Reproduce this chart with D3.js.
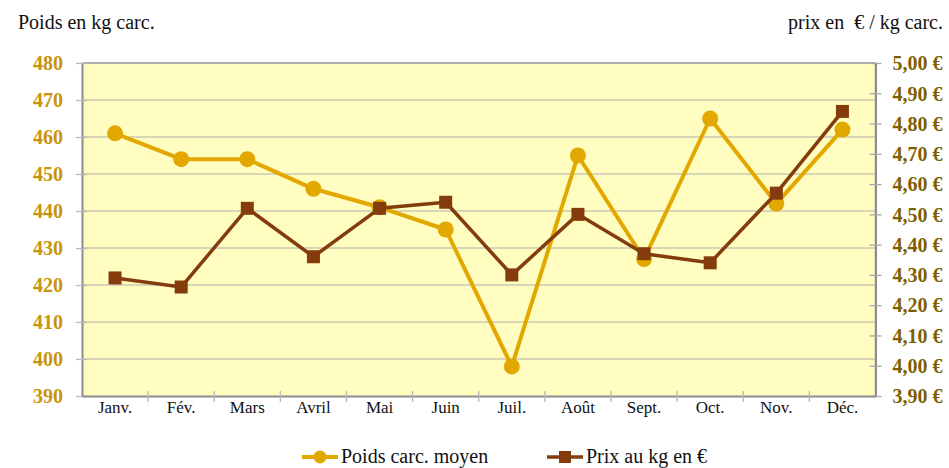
<!DOCTYPE html>
<html>
<head>
<meta charset="utf-8">
<script src="https://cdn.jsdelivr.net/npm/d3@7/dist/d3.min.js"></script>
<style>
  html, body { margin: 0; padding: 0; background: #ffffff; }
  svg { display: block; }
  text { font-family: "Liberation Serif", "Times New Roman", serif; white-space: pre; }
</style>
</head>
<body>
<svg id="chart" width="949" height="468"></svg>
<script>
// Monthly categories
const months = ["Janv.", "Fév.", "Mars", "Avril", "Mai", "Juin", "Juil.", "Août", "Sept.", "Oct.", "Nov.", "Déc."];
// Average carcass weight (kg)
const poids = [461, 454, 454, 446, 441, 435, 398, 455, 427, 465, 442, 462];
// Price per kg (€)
const prix = [4.29, 4.26, 4.52, 4.36, 4.52, 4.54, 4.30, 4.50, 4.37, 4.34, 4.57, 4.84];
// Axis ticks
const poidsTicks = [390, 400, 410, 420, 430, 440, 450, 460, 470, 480];
const prixTicks = [3.90, 4.00, 4.10, 4.20, 4.30, 4.40, 4.50, 4.60, 4.70, 4.80, 4.90, 5.00];
const seriesNames = ["Poids carc. moyen", "Prix au kg en €"];

const svg = d3.select("#chart");
const plotL = 82, plotR = 875.5, plotT = 63, plotB = 396;
const serif = '"Liberation Serif", "Times New Roman", serif';

const x = d3.scaleBand().domain(months).range([plotL, plotR]).padding(0);
const yL = d3.scaleLinear().domain([390, 480]).range([plotB, plotT]);
const yR = d3.scaleLinear().domain([3.90, 5.00]).range([plotB, plotT]);
const cx = d => x(d) + x.bandwidth() / 2;

const gold = "#E2A800", brown = "#843C0C";

// Titles
svg.append("text").attr("x", 18).attr("y", 29).style("font-size", "20px").attr("fill", "#111")
  .text("Poids en kg carc.");
svg.append("text").attr("x", 943).attr("y", 29).style("font-size", "20px").attr("fill", "#111")
  .attr("text-anchor", "end").text("prix en  € / kg carc.");

// Plot background
svg.append("rect").attr("x", plotL).attr("y", plotT).attr("width", plotR - plotL).attr("height", plotB - plotT)
  .attr("fill", "#FFFDC0");

// Horizontal gridlines
svg.append("g").selectAll("line").data(poidsTicks.filter(v => v > 390 && v < 480)).join("line")
  .attr("x1", plotL).attr("x2", plotR).attr("y1", d => yL(d)).attr("y2", d => yL(d))
  .attr("stroke", "#CBC8B4").attr("stroke-width", 1.3);

// Frame: top and right edges
svg.append("path").attr("d", `M${plotL},${plotT}H${plotR}V${plotB}`).attr("fill", "none")
  .attr("stroke", "#9B90A6").attr("stroke-width", 1.5);

// Left axis
const axL = svg.append("g").attr("transform", `translate(${plotL},0)`)
  .call(d3.axisLeft(yL).tickValues(poidsTicks).tickSizeOuter(0));
axL.select(".domain").attr("stroke", "#8C8C8C").attr("stroke-width", 2);
axL.selectAll(".tick line").attr("stroke", "#B8B8B8").attr("x2", 5).attr("x1", -6).attr("stroke-width", 1.3);
axL.selectAll(".tick text")
  .style("font-family", serif).style("font-size", "20px").style("font-weight", "bold")
  .attr("fill", "#C8940A").attr("dy", "0.34em").attr("x", -19);

// Right axis
const fmtPrix = d => d.toFixed(2).replace(".", ",") + " €";
const axR = svg.append("g").attr("transform", `translate(${plotR},0)`)
  .call(d3.axisRight(yR).tickValues(prixTicks).tickFormat(fmtPrix).tickSizeOuter(0));
axR.select(".domain").attr("stroke", "#8C8C8C").attr("stroke-width", 2);
axR.selectAll(".tick line").attr("stroke", "#A8A8A8").attr("x1", -6).attr("x2", 6).attr("stroke-width", 1.3);
axR.selectAll(".tick text")
  .style("font-family", serif).style("font-size", "20px").style("font-weight", "bold")
  .attr("fill", "#7F5F00").attr("x", 17).attr("dy", "0.34em");

// Bottom axis
const axB = svg.append("g").attr("transform", `translate(0,${plotB})`)
  .call(d3.axisBottom(x).tickSize(0).tickPadding(17));
axB.select(".domain").attr("stroke", "#8C8C8C").attr("stroke-width", 2);
axB.selectAll(".tick text")
  .style("font-family", serif).style("font-size", "17px")
  .attr("fill", "#111").attr("dy", "0.0em");
// Category boundary ticks
svg.append("g").selectAll("line").data(months.slice(1)).join("line")
  .attr("x1", d => x(d)).attr("x2", d => x(d)).attr("y1", plotB - 5).attr("y2", plotB + 6)
  .attr("stroke", "#B8B8B8").attr("stroke-width", 1.3);

// Weight series
svg.append("path").datum(poids)
  .attr("d", d3.line().x((d, i) => cx(months[i])).y(d => yL(d)))
  .attr("fill", "none").attr("stroke", gold).attr("stroke-width", 4).attr("stroke-linejoin", "round");
svg.append("g").selectAll("circle").data(poids).join("circle")
  .attr("cx", (d, i) => cx(months[i])).attr("cy", d => yL(d)).attr("r", 8).attr("fill", gold);

// Price series
svg.append("path").datum(prix)
  .attr("d", d3.line().x((d, i) => cx(months[i])).y(d => yR(d)))
  .attr("fill", "none").attr("stroke", brown).attr("stroke-width", 3.5).attr("stroke-linejoin", "round");
svg.append("g").selectAll("rect").data(prix).join("rect")
  .attr("x", (d, i) => cx(months[i]) - 6.5).attr("y", d => yR(d) - 6.5)
  .attr("width", 13).attr("height", 13).attr("fill", brown);

// Legend
const lg = svg.append("g");
const ly = 457;
lg.append("line").attr("x1", 302).attr("x2", 338).attr("y1", ly).attr("y2", ly)
  .attr("stroke", gold).attr("stroke-width", 4);
lg.append("circle").attr("cx", 320).attr("cy", ly).attr("r", 6.5).attr("fill", gold);
lg.append("text").attr("x", 341).attr("y", 463).style("font-size", "20px").attr("fill", "#111").text(seriesNames[0]);
lg.append("line").attr("x1", 547).attr("x2", 583).attr("y1", ly).attr("y2", ly)
  .attr("stroke", brown).attr("stroke-width", 3.5);
lg.append("rect").attr("x", 559).attr("y", ly - 6).attr("width", 12).attr("height", 12).attr("fill", brown);
lg.append("text").attr("x", 586).attr("y", 463).style("font-size", "20px").attr("fill", "#111").text(seriesNames[1]);
</script>
</body>
</html>
